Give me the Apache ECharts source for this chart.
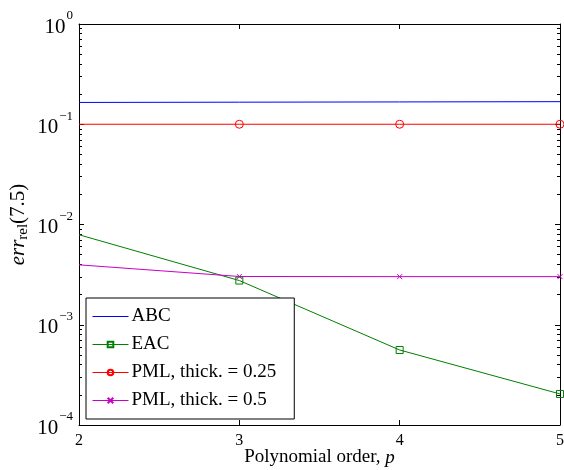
<!DOCTYPE html>
<html><head><meta charset="utf-8">
<script src="https://cdn.jsdelivr.net/npm/echarts@6/dist/echarts.min.js"></script>
<style>html,body{margin:0;padding:0;background:#fff}#c{width:564px;height:470px}</style>
</head><body><div id="c"></div>
<script>
const orders = [2, 3, 4, 5];
const abc = [0.165, 0.166, 0.167, 0.168];
const eac = [0.0079, 0.00276, 0.00056, 0.000204];
const pml025 = [0.1, 0.1, 0.1, 0.1];
const pml05 = [0.00396, 0.00303, 0.00302, 0.00302];
const seriesNames = ['ABC', 'EAC', 'PML, thick. = 0.25', 'PML, thick. = 0.5'];
const xTicks = [2, 3, 4, 5];
const yMin = 1e-4, yMax = 1;

const FONT = 'Liberation Serif';
const MAG = '#c800c8';
function pts(vals) {
  return orders.map((x, i) => i === 0 ? {value: [x, vals[i]], symbol: 'none'} : [x, vals[i]]);
}
const supLabel = v => {
  const e = Math.round(Math.log10(v));
  return '{b|10}{s|' + (e < 0 ? '\u2212' + (-e) : e) + '}';
};
const chart = echarts.init(document.getElementById('c'), null, {renderer: 'canvas'});
const tickStyle = {show: true, inside: true, length: 5, lineStyle: {color: '#000', width: 1}};
const minorStyle = {show: true, splitNumber: 9, length: 3, lineStyle: {color: '#000', width: 1}};
chart.setOption({
  animation: false,
  backgroundColor: '#fff',
  textStyle: {fontFamily: FONT},
  grid: {left: 79, top: 24, right: 4, bottom: 45, containLabel: false, outerBoundsMode: 'none'},
  legend: {
    orient: 'vertical', left: 86, top: 298,
    data: [{name: seriesNames[0], itemStyle: {color: 'rgba(0,0,0,0)', borderWidth: 0}}, seriesNames[1], seriesNames[2], seriesNames[3]],
    backgroundColor: '#fff', borderColor: '#000', borderWidth: 1,
    padding: [9, 18, 9, 6], itemWidth: 36, itemHeight: 7, itemGap: 9,
    lineStyle: {width: 1},
    textStyle: {fontFamily: FONT, fontSize: 19, color: '#000', lineHeight: 19, padding: [0, 0, 0, -2]}
  },
  xAxis: [{
    type: 'value', min: 2, max: 5, interval: 1, position: 'bottom',
    axisLine: {onZero: false, lineStyle: {color: '#000', width: 1}},
    axisTick: tickStyle, splitLine: {show: false},
    axisLabel: {color: '#000', fontSize: 16, fontFamily: FONT, margin: 8,
      formatter: v => xTicks.includes(v) ? String(v) : ''},
    name: '{n|Polynomial order, }{i|p}', nameLocation: 'middle', nameGap: 23, nameMoveOverlap: false,
    nameTextStyle: {rich: {n: {fontFamily: FONT, fontSize: 19, color: '#000'}, i: {fontFamily: FONT, fontSize: 19, fontStyle: 'italic', color: '#000'}}}
  }, {
    type: 'value', min: 2, max: 5, interval: 1, position: 'top',
    axisLine: {onZero: false, lineStyle: {color: '#000', width: 1}},
    axisTick: tickStyle, axisLabel: {show: false}, splitLine: {show: false}
  }],
  yAxis: [{
    type: 'log', logBase: 10, min: yMin, max: yMax, position: 'left',
    axisLine: {show: true, onZero: false, lineStyle: {color: '#000', width: 1}},
    axisTick: tickStyle, minorTick: minorStyle, splitLine: {show: false},
    axisLabel: {color: '#000', margin: 6, formatter: supLabel,
      rich: {b: {fontFamily: FONT, fontSize: 21, color: '#000', padding: [6, 0, 0, 0]}, s: {fontFamily: FONT, fontSize: 13, color: '#000', padding: [0, 0, 16, 1]}}},
    name: '{i|err}{sub|rel}{n|(7.5)}', nameLocation: 'middle', nameGap: 48, nameRotate: 90, nameMoveOverlap: false,
    nameTextStyle: {rich: {
      i: {fontFamily: FONT, fontSize: 21, fontStyle: 'italic', color: '#000'},
      sub: {fontFamily: FONT, fontSize: 15, color: '#000', padding: [11, 0, 0, 0]},
      n: {fontFamily: FONT, fontSize: 21, color: '#000'}}}
  }, {
    type: 'log', logBase: 10, min: yMin, max: yMax, position: 'right',
    axisLine: {show: true, onZero: false, lineStyle: {color: '#000', width: 1}},
    axisTick: tickStyle, minorTick: minorStyle, splitLine: {show: false}, axisLabel: {show: false}
  }],
  series: [
    {name: seriesNames[0], type: 'line', data: pts(abc), symbol: 'none', clip: false,
      color: '#0000ff', lineStyle: {width: 1, color: '#0000ff'}},
    {name: seriesNames[1], type: 'line', data: pts(eac), symbol: 'rect', symbolSize: 7, clip: false,
      color: '#008000', itemStyle: {color: 'rgba(255,255,255,0)', borderColor: '#008000', borderWidth: 1},
      lineStyle: {width: 1, color: '#008000'}},
    {name: seriesNames[2], type: 'line', data: pts(pml025), symbol: 'circle', symbolSize: 8, clip: false,
      color: '#ff0000', itemStyle: {color: 'rgba(255,255,255,0)', borderColor: '#ff0000', borderWidth: 1},
      lineStyle: {width: 1, color: '#ff0000'}},
    {name: seriesNames[3], type: 'line', data: pts(pml05), symbol: 'path://M0,0L10,10M10,0L0,10', symbolSize: 5, clip: false,
      color: MAG, itemStyle: {color: MAG, borderColor: MAG, borderWidth: 1},
      lineStyle: {width: 1, color: MAG}}
  ]
});
</script></body></html>
